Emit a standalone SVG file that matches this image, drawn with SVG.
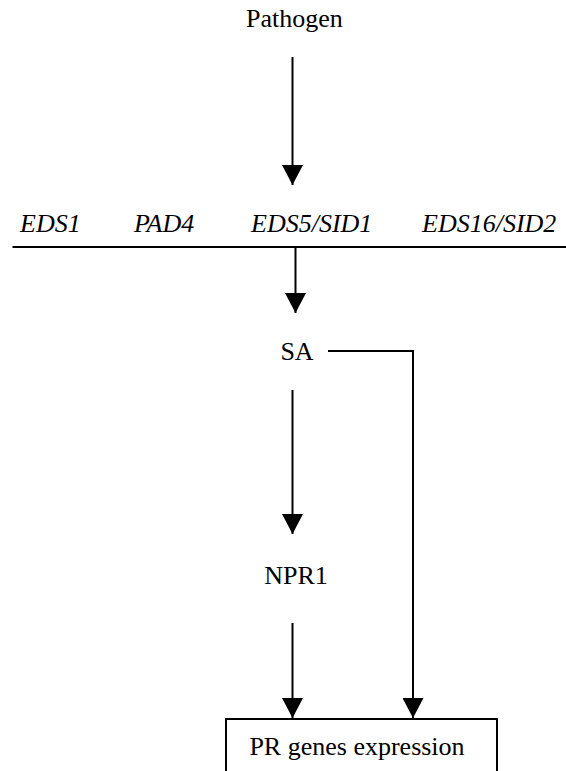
<svg xmlns="http://www.w3.org/2000/svg" width="566" height="771" viewBox="0 0 566 771">
<style>
  .t { font-family: "Liberation Serif", "Times New Roman", serif; font-size: 26px; fill: #000; }
  .i { font-style: italic; }
  .c { fill: none; stroke: #000; stroke-width: 2; }
</style>
<defs>
  <marker id="ah" markerUnits="userSpaceOnUse" markerWidth="20" markerHeight="21" refX="20" refY="10.5" orient="auto">
    <path d="M0,0 L20,10.5 L0,21 z" fill="#000"/>
  </marker>
</defs>
<rect width="566" height="771" fill="#fff"/>
<g id="pathogen"><text class="t" x="294.5" y="27" text-anchor="middle">Pathogen</text></g>
<g id="genes">
  <text class="t i" x="20" y="232">EDS1</text>
  <text class="t i" x="134" y="232">PAD4</text>
  <text class="t i" x="251" y="232">EDS5/SID1</text>
  <text class="t i" x="422" y="232">EDS16/SID2</text>
  <line class="c" x1="12.5" y1="247" x2="566" y2="247"/>
</g>
<g id="sa"><text class="t" x="297" y="360" text-anchor="middle">SA</text></g>
<g id="npr1"><text class="t" x="296" y="584" text-anchor="middle">NPR1</text></g>
<g id="pr">
  <rect class="c" x="226" y="719" width="271" height="70" fill="#fff"/>
  <text class="t" x="357" y="755" text-anchor="middle">PR genes expression</text>
</g>
<g id="connectors">
  <line class="c" x1="292.5" y1="57" x2="292.5" y2="185" marker-end="url(#ah)"/>
  <line class="c" x1="295.5" y1="247" x2="295.5" y2="313" marker-end="url(#ah)"/>
  <line class="c" x1="292.5" y1="390" x2="292.5" y2="534" marker-end="url(#ah)"/>
  <line class="c" x1="292.5" y1="623" x2="292.5" y2="718" marker-end="url(#ah)"/>
  <path class="c" d="M328,351 H413 V718" marker-end="url(#ah)"/>
</g>
</svg>
